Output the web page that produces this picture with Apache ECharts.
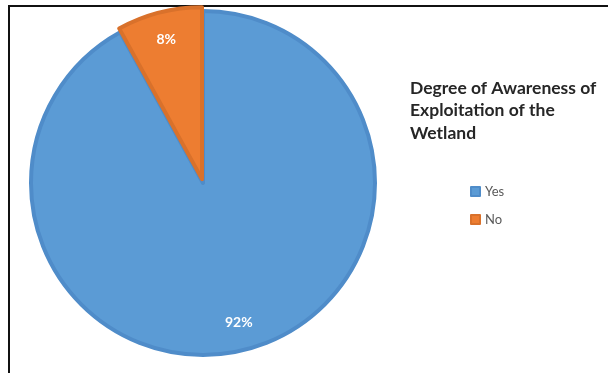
<!DOCTYPE html>
<html>
<head>
<meta charset="utf-8">
<script src="https://cdn.jsdelivr.net/npm/echarts@6/dist/echarts.min.js"></script>
<style>html,body{margin:0;padding:0;background:#fff}#c{width:608px;height:373px}</style>
</head>
<body>
<div id="c"></div>
<script>
const categories = ['Yes', 'No'];
const values = [92, 8];
const colors = ['#5B9BD5', '#ED7D31'];
const borderColors = ['#4F8CC9', '#D9712B'];
const titleText = 'Degree of Awareness of\nExploitation of the\nWetland';

const chart = echarts.init(document.getElementById('c'), null, {renderer: 'canvas'});
const center = [203, 183];
const R = 172;
const pieData = categories.map((name, i) => ({
  name, value: values[i],
  selected: name === 'No',
  itemStyle: {color: colors[i], borderColor: borderColors[i], borderWidth: 4}
}));
const labelData = categories.map((name, i) => ({name, value: values[i], selected: name === 'No'}));

chart.setOption({
  animation: false,
  title: {
    text: titleText,
    left: 410, top: 77, padding: 0,
    textStyle: {fontFamily: 'Lato', fontWeight: 'bold', fontSize: 17.5, color: '#262626', lineHeight: 22.5}
  },
  legend: {
    orient: 'vertical', left: 470, top: 185, padding: 0,
    itemWidth: 9, itemHeight: 9, itemGap: 15,
    icon: 'rect',
    data: categories,
    textStyle: {fontFamily: 'Lato', fontSize: 13, color: '#595959'}
  },
  graphic: [
    {type: 'line', shape: {x1: 8, y1: 6, x2: 608, y2: 6}, style: {stroke: '#111', lineWidth: 2}, silent: true},
    {type: 'line', shape: {x1: 9, y1: 6, x2: 9, y2: 373}, style: {stroke: '#111', lineWidth: 2}, silent: true}
  ],
  series: [
    {
      type: 'pie', center, radius: R,
      startAngle: 90, clockwise: true,
      selectedMode: 'single', selectedOffset: 4,
      label: {show: false}, labelLine: {show: false},
      emphasis: {disabled: true},
      data: pieData
    },
    {
      type: 'pie', center, radius: [R * 0.64, R],
      startAngle: 90, clockwise: true,
      selectedMode: 'single', selectedOffset: 4,
      silent: true,
      itemStyle: {color: 'rgba(0,0,0,0)', borderWidth: 0},
      label: {show: true, position: 'inside', formatter: '{c}%', color: '#fff',
        fontFamily: 'Lato', fontWeight: 'bold', fontSize: 14},
      labelLine: {show: false},
      emphasis: {disabled: true},
      data: labelData
    }
  ]
});
</script>
</body>
</html>
